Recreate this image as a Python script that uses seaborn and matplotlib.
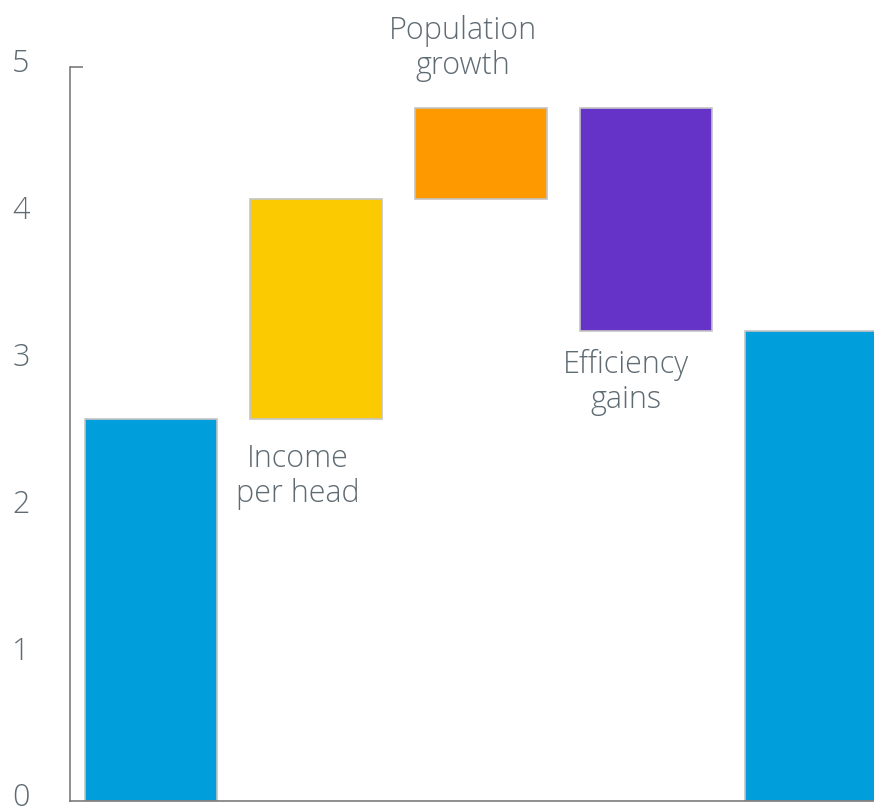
import matplotlib
matplotlib.use("Agg")
import matplotlib.pyplot as plt
import matplotlib.transforms as mtransforms
import seaborn as sns
import pandas as pd

# Data
categories = ["Start", "Income\nper head", "Population\ngrowth", "Efficiency\ngains", "End"]
bottoms = [0.0, 2.6, 4.1, 3.2, 0.0]
heights = [2.6, 1.5, 0.62, 1.52, 3.2]
colors = ["#009edb", "#fcca00", "#ff9900", "#6633c8", "#009edb"]
yticks = [0, 1, 2, 3, 4, 5]

sns.set_theme(style="white")
plt.rcParams["font.family"] = ["Open Sans", "DejaVu Sans"]
plt.rcParams["font.weight"] = "light"

text_color = "#5f6b73"
spine_color = "#707070"

fig = plt.figure(figsize=(8.74, 8.09), dpi=100)
ax = fig.add_axes([70 / 874, 8 / 809, 1 - 70 / 874, (801 - 67) / 809])

df = pd.DataFrame({"cat": categories, "h": heights})
sns.barplot(data=df, x="cat", y="h", hue="cat", palette=colors, legend=False,
            width=0.8, edgecolor="#c4c4c4", linewidth=1.2, saturation=1, ax=ax)
for p, b in zip(ax.patches, bottoms):
    p.set_y(b)

ax.set_xlim(-0.49, 4.38)
ax.set_ylim(0, 5)
ax.set_yticks(yticks)
ax.yaxis.remove_overlapping_locs = False
ax.set_yticks([5], minor=True)
ax.set_xticks([])
ax.set_xlabel("")
ax.set_ylabel("")
ax.tick_params(axis="y", which="major", length=0, pad=29, labelsize=22, labelcolor=text_color)
ax.tick_params(axis="y", which="minor", direction="in", length=9, width=1.1,
               color=spine_color, left=True)
shift = mtransforms.ScaledTranslation(0, 6.5 / 100, fig.dpi_scale_trans)
for lab in ax.get_yticklabels():
    lab.set_fontweight("light")
    lab.set_transform(lab.get_transform() + shift)

for s in ["top", "right"]:
    ax.spines[s].set_visible(False)
for s in ["left", "bottom"]:
    ax.spines[s].set_color(spine_color)
    ax.spines[s].set_linewidth(1.1)

lab_kw = dict(ha="center", fontsize=22, color=text_color, fontweight="light",
              linespacing=1.12, clip_on=False)
# Income per head: below yellow bar
ax.text(0.89, bottoms[1] - 0.16, categories[1], va="top", **lab_kw)
# Population growth: above orange bar
ax.text(1.89, bottoms[2] + heights[2] + 0.18, categories[2], va="bottom", **lab_kw)
# Efficiency gains: below purple bar
ax.text(2.88, bottoms[3] - 0.12, categories[3], va="top", **lab_kw)

fig.savefig("out.png", dpi=100)
